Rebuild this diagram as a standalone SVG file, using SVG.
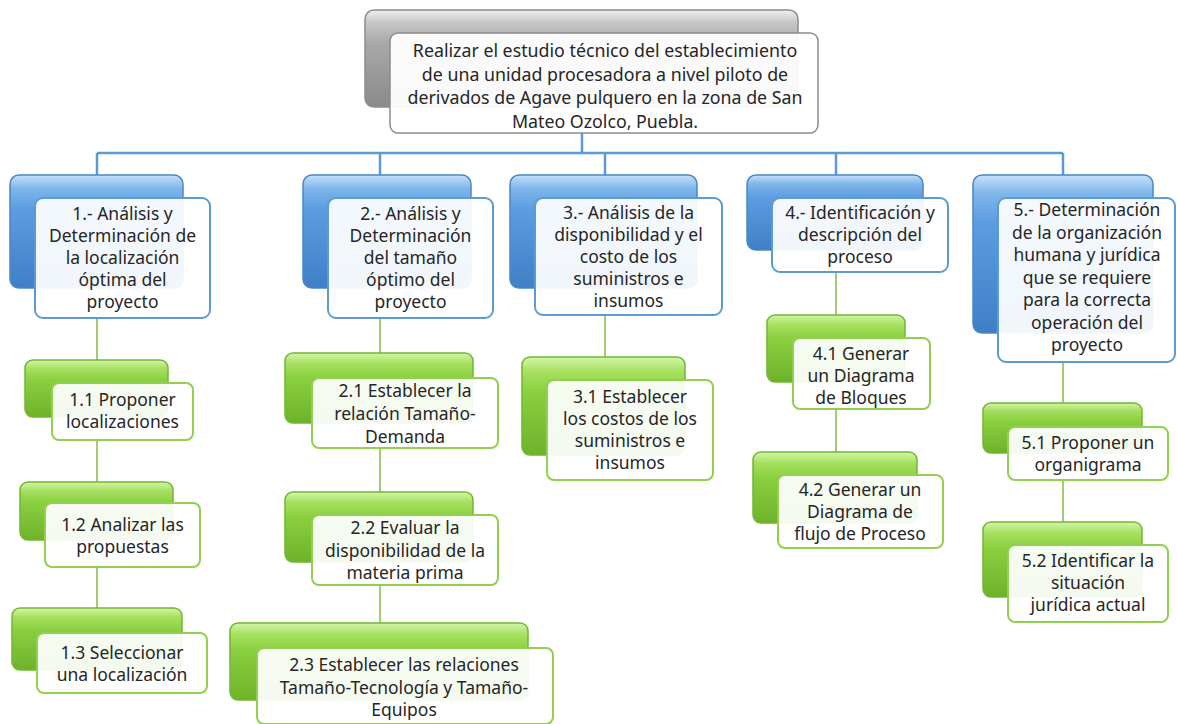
<svg xmlns="http://www.w3.org/2000/svg" width="1177" height="724" viewBox="0 0 1177 724">
<defs>
<linearGradient id="gBlue" x1="0" y1="0" x2="0" y2="1">
<stop offset="0" stop-color="#c4e0fa"/>
<stop offset="0.12" stop-color="#7fb6ea"/>
<stop offset="0.3" stop-color="#5c9ce0"/>
<stop offset="1" stop-color="#3f7fc6"/>
</linearGradient>
<linearGradient id="gGreen" x1="0" y1="0" x2="0" y2="1">
<stop offset="0" stop-color="#d4f5a8"/>
<stop offset="0.15" stop-color="#a6e060"/>
<stop offset="0.35" stop-color="#8bd040"/>
<stop offset="1" stop-color="#6db22a"/>
</linearGradient>
<linearGradient id="gGray" x1="0" y1="0" x2="0" y2="1">
<stop offset="0" stop-color="#f0f0f0"/>
<stop offset="0.12" stop-color="#c8c8c8"/>
<stop offset="0.35" stop-color="#a8a8a8"/>
<stop offset="1" stop-color="#8a8a8a"/>
</linearGradient>
<style>
.bb{fill:url(#gBlue);stroke:#4a86c8;stroke-width:1.5}
.gb{fill:url(#gGreen);stroke:#72b632;stroke-width:1.5}
.kb{fill:url(#gGray);stroke:#8c8c8c;stroke-width:1.5}
.bf{fill:#ffffff;fill-opacity:0.93;stroke:#5b9bd5;stroke-width:2}
.gf{fill:#ffffff;fill-opacity:0.93;stroke:#92d050;stroke-width:2}
.kf{fill:#ffffff;fill-opacity:0.95;stroke:#8c8c8c;stroke-width:1.5}
.t{font-family:"Noto Sans","Open Sans","Liberation Sans",sans-serif;font-size:17.5px;fill:#262626;text-anchor:middle}
.tt{font-size:17.8px}
.cb{fill:none;stroke:#5b9bd5;stroke-width:2.5}
.cg{fill:none;stroke:#8cc152;stroke-width:1.6}
</style>
</defs>
<rect width="1177" height="724" fill="#ffffff"/>

<g id="connectors">
<path class="cb" d="M582,133V153M97,153H1063M97,153V175M380,153V175M605,153V175M836,153V175M1063,153V175"/>
<path class="cg" d="M97,318V360M97,440V482M97,567V608M380,318V353M380,448V492M380,585V623M605,315V357M836,272V315M836,408V452M1063,362V403M1063,480V522"/>
</g>

<g id="top">
<rect class="kb" x="365" y="10" width="433" height="97" rx="9"/>
<rect class="kf" x="390" y="33" width="428" height="100" rx="8"/>
<text class="t tt"><tspan x="605" y="57">Realizar el estudio técnico del establecimiento</tspan><tspan x="605" y="80.5">de una unidad procesadora a nivel piloto de</tspan><tspan x="605" y="104">derivados de Agave pulquero en la zona de San</tspan><tspan x="605" y="127.5">Mateo Ozolco, Puebla.</tspan></text>
</g>

<g id="n1">
<rect class="bb" x="10" y="175" width="173" height="113" rx="9"/>
<rect class="bf" x="35" y="198" width="175" height="120" rx="8"/>
<text class="t"><tspan x="122.5" y="220">1.- Análisis y</tspan><tspan x="122.5" y="242">Determinación de</tspan><tspan x="122.5" y="264">la localización</tspan><tspan x="122.5" y="286">óptima del</tspan><tspan x="122.5" y="308">proyecto</tspan></text>
</g>

<g id="n2">
<rect class="bb" x="303" y="175" width="168" height="113" rx="9"/>
<rect class="bf" x="328" y="198" width="165" height="120" rx="8"/>
<text class="t"><tspan x="410.5" y="220">2.- Análisis y</tspan><tspan x="410.5" y="242">Determinación</tspan><tspan x="410.5" y="264">del tamaño</tspan><tspan x="410.5" y="286">óptimo del</tspan><tspan x="410.5" y="308">proyecto</tspan></text>
</g>

<g id="n3">
<rect class="bb" x="510" y="175" width="187" height="113" rx="9"/>
<rect class="bf" x="535" y="198" width="187" height="117" rx="8"/>
<text class="t"><tspan x="628.5" y="218.5">3.- Análisis de la</tspan><tspan x="628.5" y="240.5">disponibilidad y el</tspan><tspan x="628.5" y="262.5">costo de los</tspan><tspan x="628.5" y="284.5">suministros e</tspan><tspan x="628.5" y="306.5">insumos</tspan></text>
</g>

<g id="n4">
<rect class="bb" x="747" y="175" width="176" height="75" rx="9"/>
<rect class="bf" x="772" y="198" width="176" height="74" rx="8"/>
<text class="t"><tspan x="860" y="219">4.- Identificación y</tspan><tspan x="860" y="241">descripción del</tspan><tspan x="860" y="263">proceso</tspan></text>
</g>

<g id="n5">
<rect class="bb" x="973" y="175" width="180" height="158" rx="9"/>
<rect class="bf" x="998" y="198" width="177" height="164" rx="8"/>
<text class="t"><tspan x="1087" y="216">5.- Determinación</tspan><tspan x="1087" y="238.5">de la organización</tspan><tspan x="1087" y="261">humana y jurídica</tspan><tspan x="1087" y="283.5">que se requiere</tspan><tspan x="1087" y="306">para la correcta</tspan><tspan x="1087" y="328.5">operación del</tspan><tspan x="1087" y="351">proyecto</tspan></text>
</g>

<g id="n11">
<rect class="gb" x="25" y="360" width="143" height="57" rx="8"/>
<rect class="gf" x="52" y="383" width="141" height="57" rx="7"/>
<text class="t"><tspan x="122.5" y="406">1.1 Proponer</tspan><tspan x="122.5" y="428">localizaciones</tspan></text>
</g>

<g id="n12">
<rect class="gb" x="20" y="482" width="153" height="58" rx="8"/>
<rect class="gf" x="45" y="503" width="155" height="64" rx="7"/>
<text class="t"><tspan x="122.5" y="531">1.2 Analizar las</tspan><tspan x="122.5" y="553">propuestas</tspan></text>
</g>

<g id="n13">
<rect class="gb" x="12" y="608" width="170" height="62" rx="8"/>
<rect class="gf" x="37" y="633" width="170" height="60" rx="7"/>
<text class="t"><tspan x="122" y="659">1.3 Seleccionar</tspan><tspan x="122" y="681">una localización</tspan></text>
</g>

<g id="n21">
<rect class="gb" x="285" y="353" width="188" height="70" rx="8"/>
<rect class="gf" x="312" y="378" width="186" height="70" rx="7"/>
<text class="t"><tspan x="405" y="397">2.1 Establecer la</tspan><tspan x="405" y="420">relación Tamaño-</tspan><tspan x="405" y="443">Demanda</tspan></text>
</g>

<g id="n22">
<rect class="gb" x="285" y="492" width="188" height="70" rx="8"/>
<rect class="gf" x="312" y="515" width="186" height="70" rx="7"/>
<text class="t"><tspan x="405" y="534">2.2 Evaluar la</tspan><tspan x="405" y="557">disponibilidad de la</tspan><tspan x="405" y="579">materia prima</tspan></text>
</g>

<g id="n23">
<rect class="gb" x="230" y="623" width="298" height="77" rx="8"/>
<rect class="gf" x="257" y="648" width="296" height="76" rx="7"/>
<text class="t"><tspan x="404" y="671">2.3 Establecer las relaciones</tspan><tspan x="404" y="694">Tamaño-Tecnología y Tamaño-</tspan><tspan x="404" y="716">Equipos</tspan></text>
</g>

<g id="n31">
<rect class="gb" x="522" y="357" width="163" height="98" rx="8"/>
<rect class="gf" x="547" y="380" width="166" height="100" rx="7"/>
<text class="t"><tspan x="630" y="403">3.1 Establecer</tspan><tspan x="630" y="425">los costos de los</tspan><tspan x="630" y="447">suministros e</tspan><tspan x="630" y="469">insumos</tspan></text>
</g>

<g id="n41">
<rect class="gb" x="767" y="315" width="138" height="67" rx="8"/>
<rect class="gf" x="793" y="338" width="137" height="71" rx="7"/>
<text class="t"><tspan x="861" y="359.5">4.1 Generar</tspan><tspan x="861" y="381.5">un Diagrama</tspan><tspan x="861" y="403.5">de Bloques</tspan></text>
</g>

<g id="n42">
<rect class="gb" x="753" y="452" width="164" height="71" rx="8"/>
<rect class="gf" x="778" y="475" width="165" height="73" rx="7"/>
<text class="t"><tspan x="860" y="496">4.2 Generar un</tspan><tspan x="860" y="518">Diagrama de</tspan><tspan x="860" y="540">flujo de Proceso</tspan></text>
</g>

<g id="n51">
<rect class="gb" x="983" y="403" width="159" height="50" rx="8"/>
<rect class="gf" x="1008" y="427" width="160" height="53" rx="7"/>
<text class="t"><tspan x="1088" y="449">5.1 Proponer un</tspan><tspan x="1088" y="471">organigrama</tspan></text>
</g>

<g id="n52">
<rect class="gb" x="983" y="522" width="159" height="75" rx="8"/>
<rect class="gf" x="1008" y="545" width="160" height="77" rx="7"/>
<text class="t"><tspan x="1088" y="567">5.2 Identificar la</tspan><tspan x="1088" y="589">situación</tspan><tspan x="1088" y="611">jurídica actual</tspan></text>
</g>
</svg>
